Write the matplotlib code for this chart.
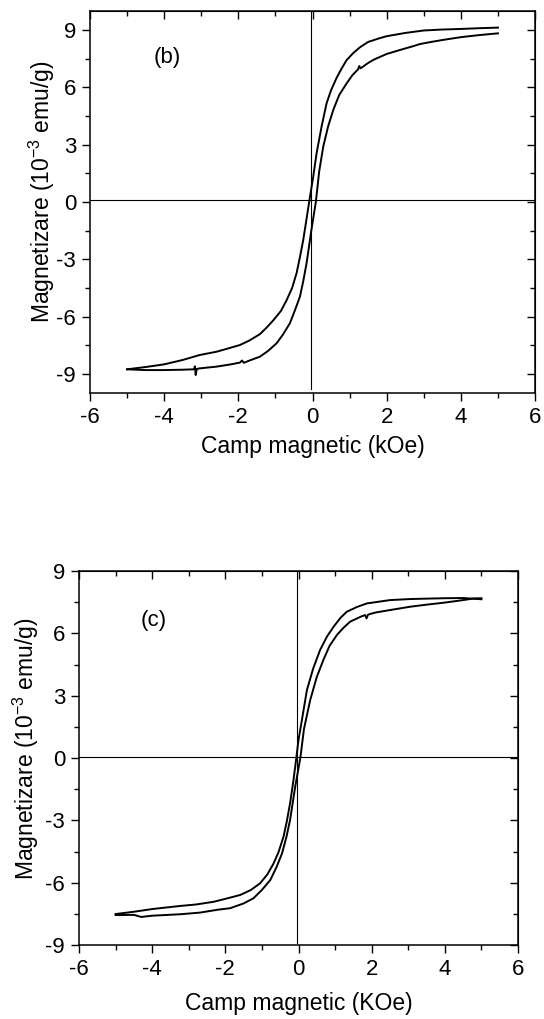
import matplotlib
matplotlib.use("Agg")
import matplotlib.pyplot as plt
from matplotlib.ticker import MultipleLocator

plt.rcParams['font.family'] = ['Liberation Sans', 'DejaVu Sans']
plt.rcParams['mathtext.fontset'] = 'custom'
plt.rcParams['mathtext.rm'] = 'Liberation Sans'
plt.rcParams['mathtext.it'] = 'Liberation Sans:italic'
plt.rcParams['mathtext.bf'] = 'Liberation Sans:bold'

# ---- panel (b) data ----
b_down_x = [5.0, 4.5, 4.0, 3.5, 3.0, 2.5, 2.0, 1.8, 1.5, 1.28, 1.1, 0.92, 0.78, 0.65,
            0.5, 0.38, 0.25, 0.11, 0.02, -0.09, -0.17, -0.25, -0.34, -0.43, -0.55,
            -0.7, -0.85, -1.06, -1.25, -1.42, -1.7, -1.96, -2.3, -2.59, -3.04, -3.5,
            -4.0, -4.5, -5.0]
b_down_y = [9.13, 9.10, 9.06, 9.03, 8.98, 8.85, 8.68, 8.57, 8.38, 8.1, 7.8, 7.43, 6.97,
            6.5, 5.85, 5.17, 4.0, 2.55, 1.33, 0.0, -1.0, -1.99, -2.9, -3.73, -4.5,
            -5.15, -5.7, -6.2, -6.6, -6.92, -7.25, -7.49, -7.68, -7.84, -8.01, -8.27,
            -8.5, -8.64, -8.76]
b_up_x = [-5.0, -4.5, -4.0, -3.5, -3.2, -3.17, -3.15, -3.12, -3.04, -2.59, -2.2, -1.96,
          -1.9, -1.85, -1.7, -1.42, -1.2, -0.97, -0.8, -0.61, -0.48, -0.34, -0.25,
          -0.16, -0.03, 0.09, 0.18, 0.29, 0.42, 0.56, 0.72, 0.92, 1.08, 1.23, 1.26,
          1.3, 1.5, 1.65, 1.73, 2.0, 2.36, 2.7, 2.9, 3.2, 3.5, 4.0, 4.5, 5.0]
b_up_y = [-8.76, -8.80, -8.80, -8.78, -8.76, -8.6, -9.06, -8.74, -8.71, -8.62, -8.5,
          -8.41, -8.3, -8.42, -8.3, -8.1, -7.8, -7.4, -6.95, -6.35, -5.7, -4.96, -4.15,
          -3.21, -1.47, 0.0, 1.6, 2.9, 3.95, 4.82, 5.6, 6.21, 6.65, 6.95, 7.12, 7.0,
          7.28, 7.45, 7.52, 7.75, 7.96, 8.15, 8.27, 8.38, 8.48, 8.63, 8.74, 8.83]

# ---- panel (c) data ----
c_down_x = [5.0, 4.5, 4.0, 3.5, 3.05, 2.5, 1.87, 1.6, 1.32, 1.15, 0.96, 0.78, 0.59, 0.4,
            0.23, 0.1, 0.0, -0.06, -0.14, -0.23, -0.32, -0.41, -0.55, -0.68, -0.85,
            -1.05, -1.3, -1.59, -2.0, -2.32, -2.8, -3.23, -4.0, -4.5, -5.0]
c_down_y = [7.64, 7.70, 7.69, 7.67, 7.65, 7.6, 7.44, 7.27, 7.04, 6.75, 6.32, 5.85, 5.2,
            4.3, 3.27, 1.9, 0.87, 0.0, -1.1, -2.18, -3.05, -3.79, -4.55, -5.07, -5.6,
            -6.03, -6.35, -6.59, -6.78, -6.92, -7.05, -7.12, -7.27, -7.4, -7.51]
c_up_x = [-5.0, -4.5, -4.3, -4.0, -3.23, -2.69, -2.2, -1.87, -1.5, -1.23, -1.0, -0.77,
          -0.6, -0.45, -0.33, -0.23, -0.09, 0.05, 0.15, 0.32, 0.5, 0.68, 0.85, 1.05,
          1.22, 1.41, 1.7, 1.82, 1.86, 1.9, 2.1, 2.5, 3.05, 3.5, 4.0, 4.5, 4.8, 5.0]
c_up_y = [-7.56, -7.55, -7.65, -7.59, -7.52, -7.44, -7.3, -7.23, -7.0, -6.75, -6.35,
          -5.87, -5.25, -4.59, -3.8, -2.98, -1.38, 0.0, 1.4, 2.79, 3.9, 4.72, 5.4, 5.92,
          6.25, 6.56, 6.8, 6.88, 6.72, 6.9, 7.0, 7.12, 7.28, 7.38, 7.48, 7.6, 7.68, 7.69]

x_ticks = [-6, -4, -2, 0, 2, 4, 6]
y_ticks = [-9, -6, -3, 0, 3, 6, 9]
ylabel = 'Magnetizare (10$^{-3}$ emu/g)'

fig = plt.figure(figsize=(5.44, 10.19), dpi=100)
W, H = 544, 1019


def make_axes(l, r, t, b):
    return fig.add_axes([l / W, 1 - b / H, (r - l) / W, (b - t) / H])


def style(ax, ylim, xlabel, label_text, label_xy, ylab_x, xlab_y):
    ax.set_xlim(-6, 6)
    ax.set_ylim(*ylim)
    ax.set_xticks(x_ticks)
    ax.set_yticks(y_ticks)
    ax.xaxis.set_minor_locator(MultipleLocator(1))
    ax.yaxis.set_minor_locator(MultipleLocator(1.5))
    ax.tick_params(which='both', direction='out', top=False, right=False,
                   width=1.0, labelsize=16, pad=4)
    ax.tick_params(which='major', length=6)
    ax.tick_params(which='minor', length=3.5)
    for s in ax.spines.values():
        s.set_linewidth(1.1)
    # mirrored inner ticks on top and right
    sx = ax.secondary_xaxis('top')
    sx.set_xticks(x_ticks)
    sx.xaxis.set_minor_locator(MultipleLocator(1))
    sx.tick_params(which='both', direction='in', labeltop=False, width=1.0)
    sx.tick_params(which='major', length=6)
    sx.tick_params(which='minor', length=3.5)
    sy = ax.secondary_yaxis('right')
    sy.set_yticks(y_ticks)
    sy.yaxis.set_minor_locator(MultipleLocator(1.5))
    sy.tick_params(which='both', direction='in', labelright=False, width=1.0)
    sy.tick_params(which='major', length=6)
    sy.tick_params(which='minor', length=3.5)
    ax.set_xticklabels([str(v) for v in x_ticks])
    ax.set_yticklabels([str(v) for v in y_ticks])
    ax.set_xlabel(xlabel, fontsize=16.5)
    ax.set_ylabel(ylabel, fontsize=16.5)
    ax.xaxis.set_label_coords(0.5, xlab_y)
    ax.yaxis.set_label_coords(ylab_x, 0.526)
    ax.text(label_xy[0], label_xy[1], label_text, fontsize=16, ha='center', va='center')


# panel (b)
ax1 = make_axes(90, 535, 11, 393)
ax1.axhline(0.08, color='black', lw=0.8)
ax1.plot([-0.03, -0.03], [10, -9.8], color='black', lw=0.8)
ax1.plot(b_down_x, b_down_y, color='black', lw=1.4)
ax1.plot(b_up_x, b_up_y, color='black', lw=1.4)
style(ax1, (-10, 10), 'Camp magnetic (kOe)', '(b)', (-3.91, 7.54), -0.075, -0.11)

# panel (c)
ax2 = make_axes(79, 518, 571, 945)
ax2.axhline(0.05, color='black', lw=0.8)
ax2.plot([-0.03, -0.03], [9, -8.9], color='black', lw=0.8)
ax2.plot(c_down_x, c_down_y, color='black', lw=1.4)
ax2.plot(c_up_x, c_up_y, color='black', lw=1.4)
style(ax2, (-9, 9), 'Camp magnetic (KOe)', '(c)', (-3.96, 6.6), -0.086, -0.125)

fig.savefig('out.png', dpi=100)
